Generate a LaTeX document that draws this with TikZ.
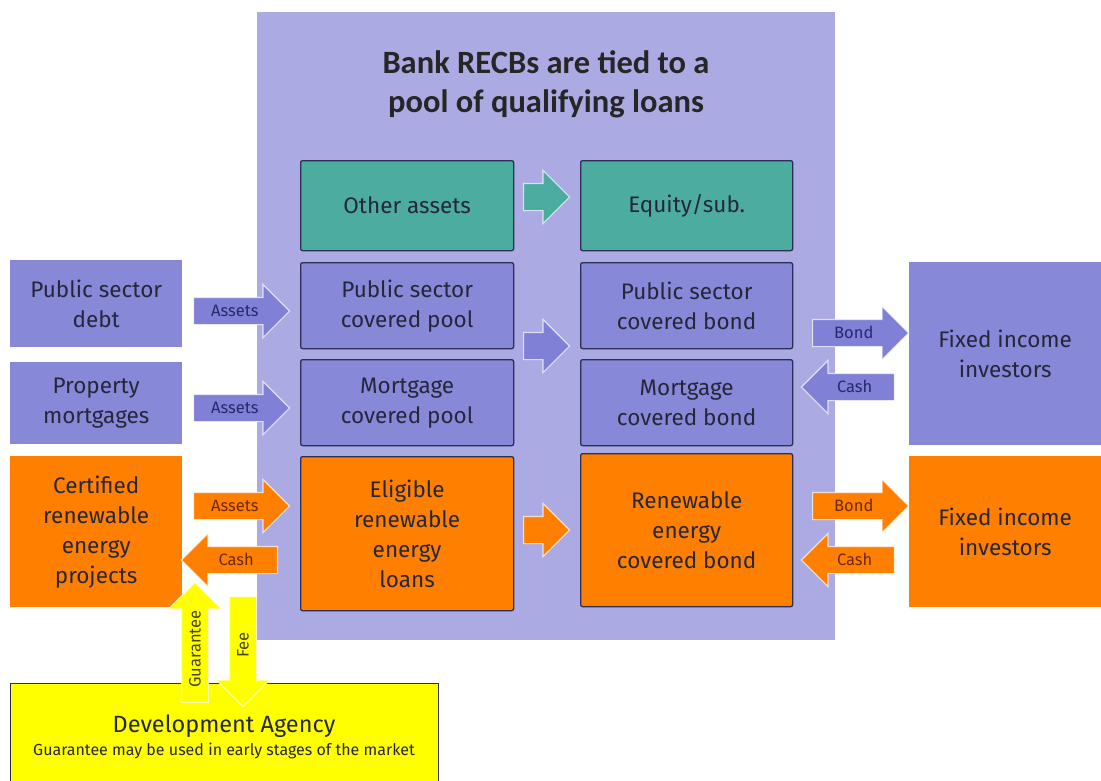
\documentclass[tikz,border=0pt]{standalone}
\usepackage{fontspec}
\setmainfont{Fira Sans}
\newfontfamily\titlefont{Carlito}
\usetikzlibrary{shapes.arrows}
\definecolor{panel}{RGB}{171,170,226}
\definecolor{blu}{RGB}{136,136,216}
\definecolor{bluarr}{RGB}{128,128,214}
\definecolor{tealc}{RGB}{76,172,160}
\definecolor{orng}{RGB}{255,128,0}
\definecolor{yel}{RGB}{255,255,0}
\definecolor{edge}{RGB}{45,45,85}
\definecolor{txt}{RGB}{38,38,58}
\definecolor{navytxt}{RGB}{40,40,110}
\definecolor{browntxt}{RGB}{110,40,0}
\definecolor{olivetxt}{RGB}{70,70,0}
\tikzset{
  box/.style={draw=edge, line width=1.3, rounded corners=2, align=center, text=txt,
    inner sep=0pt, anchor=north west, font=\fontsize{22.5}{30}\selectfont},
  sidebox/.style={align=center, text=txt, inner sep=0pt, anchor=north west,
    font=\fontsize{22.5}{30}\selectfont},
  blockarr/.style={single arrow, single arrow head extend=13, single arrow head indent=0,
    text height=11, text depth=0, inner ysep=7.5, inner xsep=0, draw=white,
    draw opacity=0.7, line width=1.2, anchor=tail, font=\fontsize{16.5}{18}\selectfont},
  leftarr/.style={blockarr, shape border rotate=180},
}
\begin{document}
\begin{tikzpicture}[x=1pt,y=-1pt]
\useasboundingbox (0,0) rectangle (1101,780);
% panel
\fill[panel] (257,12) rectangle (835,640);
\node[font=\titlefont\bfseries\fontsize{32.5}{39}\selectfont, align=center, text=black!85] (title) at (546,84)
  {Bank RECBs are tied to a\\pool of qualifying loans};
% inner boxes
\node[box, fill=tealc, minimum width=213, minimum height=90] (oa) at (300,160) {Other assets};
\node[box, fill=tealc, minimum width=212, minimum height=90] (eq) at (580,160) {Equity/sub.};
\node[box, fill=blu, minimum width=213, minimum height=86] (pscp) at (300,262) {Public sector\\covered pool};
\node[box, fill=blu, minimum width=212, minimum height=86] (pscb) at (580,262) {Public sector\\covered bond};
\node[box, fill=blu, minimum width=213, minimum height=86] (mcp) at (300,359) {Mortgage\\covered pool};
\node[box, fill=blu, minimum width=212, minimum height=86] (mcb) at (580,359) {Mortgage\\covered bond};
\node[box, fill=orng, minimum width=213, minimum height=154] (erel) at (300,456) {Eligible\\renewable\\energy\\loans};
\node[box, fill=orng, minimum width=212, minimum height=153] (recb) at (580,453) {Renewable\\energy\\covered bond};
% left boxes
\node[sidebox, fill=blu, minimum width=172, minimum height=87] (psd) at (10,260) {Public sector\\debt};
\node[sidebox, fill=blu, minimum width=172, minimum height=82] (pm) at (10,362) {Property\\mortgages};
\node[sidebox, fill=orng, minimum width=172, minimum height=151] (crep) at (10,456) {Certified\\renewable\\energy\\projects};
% right boxes
\node[sidebox, fill=blu, minimum width=192, minimum height=183] (fii1) at (909,262) {Fixed income\\investors};
\node[sidebox, fill=orng, minimum width=192, minimum height=151] (fii2) at (909,456) {Fixed income\\investors};
% development agency
\node[draw=edge, line width=1.3, fill=yel, anchor=north west, minimum width=428, minimum height=110, inner sep=0pt] (da) at (10,683) {};
\node[text=txt, font=\fontsize{23.5}{24}\selectfont] (dat) at (224,726) {Development Agency};
\node[text=txt, font=\fontsize{16}{16}\selectfont] (das) at (224,751) {Guarantee may be used in early stages of the market};
% arrows left
\node[blockarr, fill=bluarr, text=navytxt, minimum height=96] (a1) at (193,311) {Assets};
\node[blockarr, fill=bluarr, text=navytxt, minimum height=96] (a2) at (193,408) {Assets};
\node[blockarr, fill=orng, text=browntxt, minimum height=96] (a3) at (193,506) {Assets};
\node[leftarr, fill=orng, text=browntxt, minimum height=96] (c1) at (278,560) {Cash};
% middle arrows
\node[blockarr, fill=tealc, minimum height=46] (m1) at (523,197) {};
\node[blockarr, fill=bluarr, minimum height=46] (m2) at (523,346) {};
\node[blockarr, fill=orng, minimum height=46] (m3) at (523,530) {};
% right arrows
\node[blockarr, fill=bluarr, text=navytxt, minimum height=96] (b1) at (812,333) {Bond};
\node[leftarr, fill=bluarr, text=navytxt, minimum height=93] (c2) at (895,387) {Cash};
\node[blockarr, fill=orng, text=browntxt, minimum height=96] (b2) at (812,506) {Bond};
\node[leftarr, fill=orng, text=browntxt, minimum height=93] (c3) at (895,560) {Cash};
% vertical arrows
\node[blockarr, rotate=90, fill=yel, text=olivetxt, minimum height=120] (g) at (195,703) {Guarantee};
\node[blockarr, rotate=90, shape border rotate=180, fill=yel, text=olivetxt, minimum height=110] (f) at (243,596) {Fee};
\end{tikzpicture}
\end{document}
